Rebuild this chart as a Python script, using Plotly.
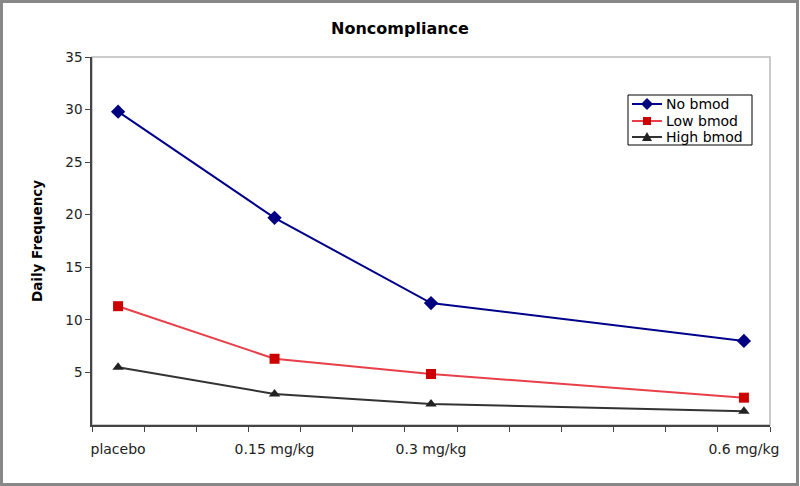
import plotly.graph_objects as go

doses = [0.0, 0.15, 0.3, 0.6]
dose_labels = ["placebo", "0.15 mg/kg", "0.3 mg/kg", "0.6 mg/kg"]
no_bmod = [29.8, 19.7, 11.6, 8.0]
low_bmod = [11.3, 6.3, 4.85, 2.6]
high_bmod = [5.5, 2.95, 2.0, 1.3]
y_ticks = [5, 10, 15, 20, 25, 30, 35]
series_names = ["No bmod", "Low bmod", "High bmod"]

step = 0.05  # category width on the dose axis
xpos = [d / step for d in doses]

FONT = "DejaVu Sans"
W, H = 800, 486
L, R, T, B = 92, 30, 57, 61
pw, ph = W - L - R, H - T - B


def px(x):
    return (x - L) / pw


def py(y):
    return (H - B - y) / ph


styles = [
    dict(lc="#00008B", mc="#000080", sym="diamond", ms=11,
         path="M0,6 L6,0 L0,-6 L-6,0 Z"),
    dict(lc="#E8404A", mc="#CC0000", sym="square", ms=10,
         path="M-4,-4 L4,-4 L4,4 L-4,4 Z"),
    dict(lc="#333333", mc="#222222", sym="triangle-up", ms=10,
         path="M0,5 L5,-4 L-5,-4 Z"),
]

fig = go.Figure()
for name, vals, st in zip(series_names, [no_bmod, low_bmod, high_bmod], styles):
    fig.add_trace(go.Scatter(
        x=xpos, y=vals, name=name, mode="lines+markers",
        line=dict(color=st["lc"], width=2),
        marker=dict(symbol=st["sym"], size=st["ms"], color=st["mc"]),
        showlegend=False,
    ))

shapes = [
    # plot-area border (top and right)
    dict(type="rect", xref="paper", yref="paper", x0=0, x1=1, y0=0, y1=1,
         line=dict(color="#BBBBBB", width=1.5), layer="below"),
    # outer chart frame
    dict(type="rect", xref="paper", yref="paper",
         x0=px(1.5), x1=px(797.5), y0=py(484.5), y1=py(1.5),
         line=dict(color="#888888", width=3)),
    # legend box
    dict(type="rect", xref="paper", yref="paper",
         x0=px(628), x1=px(752), y0=py(145), y1=py(95),
         line=dict(color="black", width=1), fillcolor="white"),
]
annotations = []
row_y = [104, 121, 137]
for name, st, ry in zip(series_names, styles, row_y):
    shapes.append(dict(type="line", xref="paper", yref="paper",
                       x0=px(632), x1=px(662), y0=py(ry), y1=py(ry),
                       line=dict(color=st["lc"], width=2)))
    shapes.append(dict(type="path", xref="paper", yref="paper",
                       xsizemode="pixel", ysizemode="pixel",
                       xanchor=px(647), yanchor=py(ry), path=st["path"],
                       fillcolor=st["mc"], line=dict(color=st["mc"], width=0)))
    annotations.append(dict(text=name, xref="paper", yref="paper",
                            x=px(664), y=py(ry), xanchor="left", yanchor="middle",
                            showarrow=False,
                            font=dict(family=FONT, size=14, color="black")))

fig.update_layout(
    width=W, height=H,
    margin=dict(l=L, r=R, t=T, b=B),
    paper_bgcolor="white", plot_bgcolor="white",
    title=dict(text="<b>Noncompliance</b>", x=0.5, xanchor="center",
               y=1 - 28 / H, yanchor="middle",
               font=dict(family=FONT, size=16, color="black")),
    font=dict(family=FONT, size=13, color="#222222"),
    xaxis=dict(
        range=[-0.5, 12.5], tickvals=xpos, ticktext=dose_labels,
        ticks="", showgrid=False, zeroline=False,
        showline=True, linecolor="#444444", linewidth=1.5,
        ticklabelstandoff=10,
        tickfont=dict(family=FONT, size=14, color="#222222"),
        minor=dict(tick0=-0.5, dtick=1, ticks="outside", ticklen=5,
                   tickcolor="#444444", showgrid=False),
    ),
    yaxis=dict(
        range=[0, 35], tickvals=y_ticks, ticks="outside", ticklen=5,
        tickcolor="#444444", showgrid=False, zeroline=False,
        showline=True, linecolor="#444444", linewidth=1.5,
        tickfont=dict(family=FONT, size=13.5, color="#222222"),
        title=dict(text="<b>Daily Frequency</b>",
                   font=dict(family=FONT, size=13.5, color="black"),
                   standoff=20),
    ),
    showlegend=False,
    shapes=shapes,
    annotations=annotations,
)

fig.write_html("out.html", config={"displayModeBar": False},
               post_script="document.body.style.margin='0';")
